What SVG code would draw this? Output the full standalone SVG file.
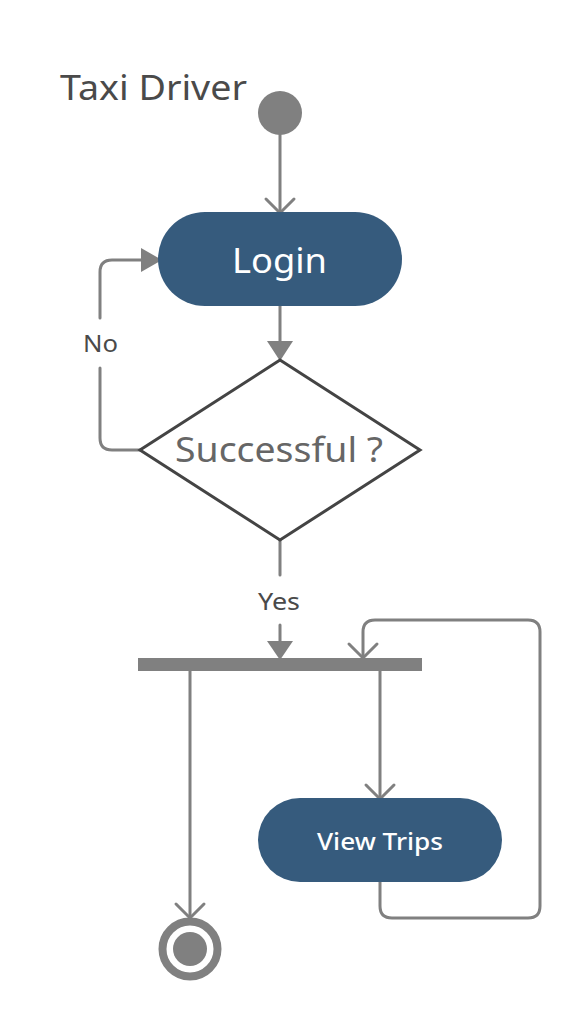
<svg xmlns="http://www.w3.org/2000/svg" width="580" height="1020" viewBox="0 0 580 1020">
<style>
.conn{fill:none;stroke:#808080;stroke-width:3;stroke-linejoin:round;stroke-linecap:round}
.chev{fill:none;stroke:#808080;stroke-width:3;stroke-linecap:round;stroke-linejoin:miter}
.tri{fill:#808080}
.act{fill:#365b7d}
.lbl{font-family:"Noto Sans","Open Sans","DejaVu Sans",sans-serif}
</style>
<rect width="580" height="1020" fill="#ffffff"/>
<text class="lbl" x="60" y="100" font-size="35" fill="#4a4a4a" textLength="187" lengthAdjust="spacingAndGlyphs">Taxi Driver</text>
<g id="connectors">
  <path class="conn" d="M280 135 V212"/>
  <path class="chev" d="M266 199 L280 213 L294 199"/>
  <path class="conn" d="M280 306 V345"/>
  <path class="tri" d="M267 341 L293 341 L280 361 Z"/>
  <path class="conn" d="M140 450 H112 Q100 450 100 438 V368"/>
  <path class="conn" d="M100 318 V272 Q100 260 112 260 H145"/>
  <path class="tri" d="M141 248 L162 260 L141 272 Z"/>
  <text class="lbl" x="100.5" y="352" font-size="24" fill="#4a4a4a" text-anchor="middle" textLength="35" lengthAdjust="spacingAndGlyphs">No</text>
  <path class="conn" d="M280 540 V575"/>
  <text class="lbl" x="279" y="610" font-size="24" fill="#4a4a4a" text-anchor="middle" textLength="42" lengthAdjust="spacingAndGlyphs">Yes</text>
  <path class="conn" d="M280 625 V645"/>
  <path class="tri" d="M267 641 L293 641 L280 660 Z"/>
  <path class="conn" d="M190 671 V917"/>
  <path class="chev" d="M176 904 L190 918 L204 904"/>
  <path class="conn" d="M380 671 V797"/>
  <path class="chev" d="M366 785 L380 799 L394 785"/>
  <path class="conn" d="M380 880 V906 Q380 918 392 918 H528 Q540 918 540 906 V632 Q540 620 528 620 H375 Q363 620 363 632 V657"/>
  <path class="chev" d="M349 644 L363 658 L377 644"/>
</g>
<g id="start">
  <circle cx="280" cy="113" r="22" fill="#808080"/>
</g>
<g id="login">
  <rect class="act" x="158" y="212" width="244" height="94" rx="47"/>
  <text class="lbl" x="279.5" y="273" font-size="35" fill="#ffffff" text-anchor="middle" textLength="95" lengthAdjust="spacingAndGlyphs">Login</text>
</g>
<g id="decision">
  <polygon points="280,360 420,450 280,540 140,450" fill="#ffffff" stroke="#444444" stroke-width="3" stroke-linejoin="miter"/>
  <text class="lbl" x="279" y="462" font-size="35" fill="#666666" text-anchor="middle" textLength="208" lengthAdjust="spacingAndGlyphs">Successful ?</text>
</g>
<g id="fork">
  <rect x="138" y="658" width="284" height="13" fill="#808080"/>
</g>
<g id="viewtrips">
  <rect class="act" x="258" y="798" width="244" height="84" rx="42"/>
  <text class="lbl" x="380" y="850" font-size="24" font-weight="500" fill="#ffffff" text-anchor="middle" textLength="126" lengthAdjust="spacingAndGlyphs">View Trips</text>
</g>
<g id="final">
  <circle cx="190" cy="949" r="27.5" fill="none" stroke="#808080" stroke-width="8"/>
  <circle cx="190" cy="949" r="17" fill="#808080"/>
</g>
</svg>
